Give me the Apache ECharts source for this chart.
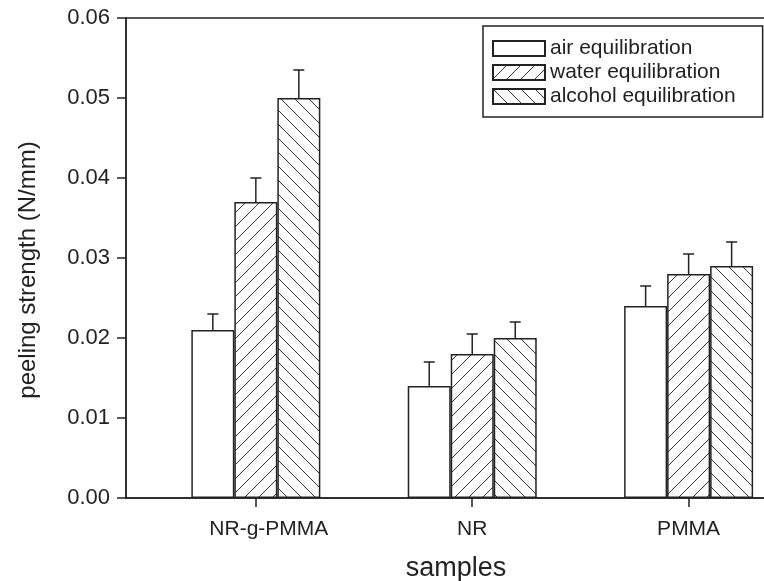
<!DOCTYPE html>
<html>
<head>
<meta charset="utf-8">
<script src="https://cdn.jsdelivr.net/npm/echarts@6/dist/echarts.min.js"></script>
<style>html,body{margin:0;padding:0;background:#fff}#c{width:764px;height:581px}</style>
</head>
<body>
<div id="c"></div>
<script>
// ---- data ----
const categories = ['NR-g-PMMA', 'NR', 'PMMA'];
const categoryPos = [1, 2, 3];
const seriesNames = ['air equilibration', 'water equilibration', 'alcohol equilibration'];
const airValues = [0.021, 0.014, 0.024];
const waterValues = [0.037, 0.018, 0.028];
const alcoholValues = [0.050, 0.020, 0.029];
const airErr = [0.002, 0.003, 0.0025];
const waterErr = [0.003, 0.0025, 0.0025];
const alcoholErr = [0.0035, 0.002, 0.003];
const yTicks = [0, 0.01, 0.02, 0.03, 0.04, 0.05, 0.06];

// ---- styles ----
const FONT = "'Liberation Sans', Arial, Helvetica, sans-serif";
const INK = '#222';
const BAR_W = 43;

function hatch(forward) {
  const s = 14;
  const c = document.createElement('canvas');
  c.width = s; c.height = s;
  const g = c.getContext('2d');
  g.fillStyle = '#fff'; g.fillRect(0, 0, s, s);
  g.strokeStyle = '#333'; g.lineWidth = 1;
  g.beginPath();
  if (forward) {
    g.moveTo(-2, s + 2); g.lineTo(s + 2, -2);
    g.moveTo(-2, 2); g.lineTo(2, -2);
    g.moveTo(s - 2, s + 2); g.lineTo(s + 2, s - 2);
  } else {
    g.moveTo(-2, -2); g.lineTo(s + 2, s + 2);
    g.moveTo(s - 2, -2); g.lineTo(s + 2, 2);
    g.moveTo(-2, s - 2); g.lineTo(2, s + 2);
  }
  g.stroke();
  return { image: c, repeat: 'repeat' };
}

const fills = ['#ffffff', hatch(true), hatch(false)];
const values = [airValues, waterValues, alcoholValues];
const errs = [airErr, waterErr, alcoholErr];

const barSeries = seriesNames.map((name, i) => ({
  name: name,
  type: 'bar',
  barWidth: BAR_W,
  barGap: '0%',
  data: categoryPos.map((x, j) => [x, values[i][j]]),
  itemStyle: { color: fills[i], borderColor: INK, borderWidth: 1.5 },
  emphasis: { disabled: true },
  z: 2
}));

const errData = [];
seriesNames.forEach((n, i) => {
  categoryPos.forEach((x, j) => errData.push([x, values[i][j], errs[i][j], i]));
});

const errSeries = {
  type: 'custom',
  name: 'err',
  data: errData,
  z: 3,
  silent: true,
  renderItem: function (params, api) {
    const x = api.value(0), y = api.value(1), e = api.value(2), s = api.value(3);
    const p0 = api.coord([x, y]);
    const p1 = api.coord([x, y + e]);
    const cx = p0[0] + (s - 1) * BAR_W;
    const st = { stroke: INK, lineWidth: 1.5 };
    return {
      type: 'group',
      children: [
        { type: 'line', shape: { x1: cx, y1: p0[1], x2: cx, y2: p1[1] }, style: st },
        { type: 'line', shape: { x1: cx - 5.5, y1: p1[1], x2: cx + 5.5, y2: p1[1] }, style: st }
      ]
    };
  }
};

const chart = echarts.init(document.getElementById('c'), null, { renderer: 'canvas' });
chart.setOption({
  animation: false,
  backgroundColor: '#fff',
  textStyle: { fontFamily: FONT, color: INK },
  grid: { left: 126, right: -22, top: 18, bottom: 83, outerBoundsMode: 'none', containLabel: false, show: true, borderColor: INK, borderWidth: 1.5, backgroundColor: 'transparent' },
  legend: {
    data: seriesNames,
    orient: 'vertical',
    left: 483, top: 26,
    icon: 'rect',
    itemWidth: 52, itemHeight: 15, itemGap: 3,
    padding: [12, 27, 10, 9],
    borderColor: INK, borderWidth: 1.5,
    backgroundColor: '#fff',
    textStyle: { fontFamily: FONT, fontSize: 21, color: INK },
    selectedMode: false
  },
  xAxis: {
    type: 'value',
    min: 0.4, max: 3.45,
    name: 'samples',
    nameLocation: 'middle',
    nameGap: 57,
    nameTextStyle: { fontFamily: FONT, fontSize: 27, color: INK },
    axisLine: { show: true, lineStyle: { color: INK, width: 1.5 } },
    axisTick: { show: true, customValues: categoryPos, length: 9, lineStyle: { color: INK, width: 1.5 } },
    axisLabel: {
      customValues: categoryPos,
      margin: 21,
      fontFamily: FONT, fontSize: 21, color: INK,
      formatter: v => {
        const k = categoryPos.indexOf(Math.round(v));
        if (k < 0) return '';
        return k === 0 ? '{s|' + categories[k] + '}' : categories[k];
      },
      rich: { s: { fontFamily: FONT, fontSize: 21, color: INK, padding: [0, 0, 0, 26] } }
    },
    splitLine: { show: false }
  },
  yAxis: {
    type: 'value',
    min: yTicks[0], max: yTicks[yTicks.length - 1], interval: 0.01,
    name: 'peeling strength (N/mm)',
    nameLocation: 'middle',
    nameGap: 86,
    nameTextStyle: { fontFamily: FONT, fontSize: 24, color: INK, padding: [0, 24, 0, 0] },
    axisLine: { show: true, lineStyle: { color: INK, width: 1.5 } },
    axisTick: { show: true, length: 9, lineStyle: { color: INK, width: 1.5 } },
    axisLabel: { margin: 16, fontFamily: FONT, fontSize: 22, color: INK, formatter: v => v.toFixed(2) },
    splitLine: { show: false }
  },
  series: barSeries.concat([errSeries])
});
</script>
</body>
</html>
